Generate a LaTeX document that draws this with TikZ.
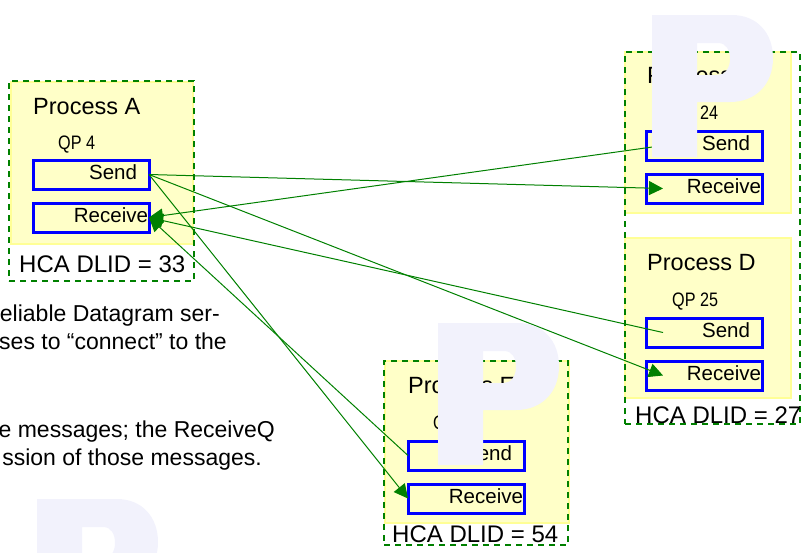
\documentclass[tikz,border=0pt]{standalone}
\usepackage{fontspec}
\setmainfont{Liberation Sans}
\newfontfamily\narrowfont[FakeStretch=0.83]{Liberation Sans}
\usetikzlibrary{arrows.meta}
\pgfdeclarelayer{fg}
\pgfsetlayers{main,fg}
\definecolor{procfill}{RGB}{255,255,200}
\definecolor{procedge}{RGB}{255,255,150}
\definecolor{hcagreen}{RGB}{0,128,0}
\definecolor{qpblue}{RGB}{0,0,255}
\definecolor{wmark}{RGB}{242,242,252}

\begin{document}
\begin{tikzpicture}[
  x=1pt, y=-1pt,
  proc/.style={draw=procedge, fill=procfill, line width=2pt, anchor=north west, inner sep=0pt, outer sep=0pt, minimum height=162pt},
  hca/.style={draw=hcagreen, line width=2pt, dash pattern=on 6pt off 5pt, anchor=north west, inner sep=0pt, outer sep=0pt},
  qbox/.style={draw=qpblue, line width=3pt, anchor=north west, outer sep=0pt, minimum width=116pt, minimum height=29pt,
    text height=15pt, text depth=5pt, align=right, font=\fontsize{20.5}{24}\selectfont},
  sendbox/.style={qbox, text width=92pt, inner xsep=12pt},
  recvbox/.style={qbox, text width=114pt, inner xsep=1pt},
  pname/.style={anchor=base west, inner sep=0pt, font=\fontsize{23.5}{28}\selectfont},
  qpname/.style={anchor=base west, inner sep=0pt, font=\narrowfont\fontsize{19.5}{23}\selectfont},
  dlid/.style={anchor=base west, inner sep=0pt, font=\fontsize{24}{28}\selectfont},
  body/.style={anchor=base east, inner sep=0pt, font=\fontsize{23}{28}\selectfont},
  link/.style={draw=hcagreen, line width=1pt, -{Triangle[length=14pt,width=14pt]}},
  bigP/.pic={
    \fill[wmark, even odd rule] (0,0) -- (80,0) .. controls (105,0) and (121,18) .. (121,43)
      .. controls (121,70) and (103,87) .. (78,87) -- (45,87) -- (45,142) -- (0,142) -- cycle
      (45,28) -- (66,28) .. controls (74,28) and (78,35) .. (78,44)
      .. controls (78,53) and (73,60) .. (66,60) -- (45,60) -- cycle;
  }
]
\useasboundingbox (0,0) rectangle (809,552);
\clip (0,0) rectangle (809,552);

% process boxes and HCA frames
\node[proc, minimum width=182pt] (procA) at (11,82) {};
\node[proc, minimum width=166pt, minimum height=161pt] (procC) at (625,52) {};
\node[proc, minimum width=166pt, minimum height=160pt] (procD) at (625,238) {};
\node[proc, minimum width=184pt] (procE) at (385,361) {};
\node[hca, minimum width=185pt, minimum height=200pt] (hcaA) at (9,81) {};
\node[hca, minimum width=175pt, minimum height=372pt] (hcaCD) at (625,52) {};
\node[hca, minimum width=184pt, minimum height=184pt] (hcaE) at (384,361) {};

% Process A
\node[pname] (nameA) at (33,114) {Process A};
\node[qpname] (qpA) at (58,149) {QP 4};
\node[sendbox] (sendA) at (33,160) {Send};
\node[recvbox] (recvA) at (33,203) {Receive};
\node[dlid] (dlidA) at (19,272) {HCA DLID = 33};

% Process C and D
\node[pname] (nameC) at (647,83) {Process C};
\node[qpname] (qpC) at (672,119) {QP 24};
\node[sendbox] (sendC) at (646,131) {Send};
\node[recvbox] (recvC) at (646,174) {Receive};
\node[pname] (nameD) at (647,270) {Process D};
\node[qpname] (qpD) at (672,306) {QP 25};
\node[sendbox] (sendD) at (646,318) {Send};
\node[recvbox] (recvD) at (646,361) {Receive};
\node[dlid] (dlidCD) at (635,423) {HCA DLID = 27};

% Process E
\node[pname] (nameE) at (408,393) {Process E};
\node[qpname] (qpE) at (433,429) {QP 14};
\node[sendbox] (sendE) at (408,441) {Send};
\node[recvbox] (recvE) at (408,484) {Receive};
\node[dlid] (dlidE) at (392,542) {HCA DLID = 54};

% text on the left
\node[body] (bodyA) at (220,321) {eliable Datagram ser-};
\node[body] (bodyB) at (227,349) {ses to “connect” to the};
\node[body] (bodyC) at (275,437) {e messages; the ReceiveQ};
\node[body] (bodyD) at (262,465) {ssion of those messages.};

% datagrams
\draw[link] (sendA.east) -- ([xshift=17pt]recvC.west);
\draw[link] ([xshift=17pt]sendC.west) -- (recvA.east);
\draw[link] (sendA.east) -- ([xshift=17pt]recvD.west);
\draw[link] ([xshift=17pt]sendD.west) -- (recvA.east);
\draw[link] (sendA.east) -- (recvE.west);
\draw[link] (sendE.west) -- (recvA.east);

\begin{pgfonlayer}{fg}
\pic at (652,15) {bigP};
\pic at (438,323) {bigP};
\pic at (37,499) {bigP};
\end{pgfonlayer}
\end{tikzpicture}
\end{document}
